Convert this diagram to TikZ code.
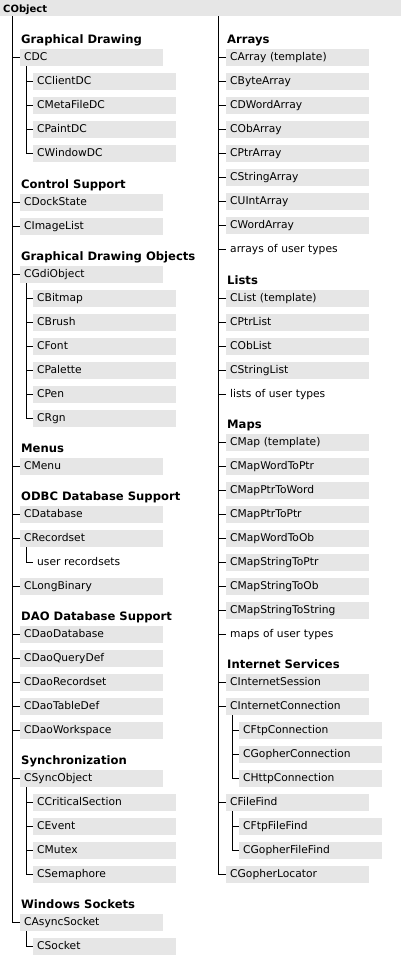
\documentclass[tikz,border=0pt]{standalone}
\usepackage{fontspec}
\setmainfont{DejaVu Sans}
\definecolor{boxgray}{RGB}{230,230,230}
\newcommand{\itemfont}{\fontsize{10.7}{12}\selectfont}
\newcommand{\headfont}{\bfseries\fontsize{11.6}{13}\selectfont}
\tikzset{
  cbox/.style={anchor=north west, fill=boxgray, minimum width=143pt, minimum height=17pt,
    inner xsep=4pt, inner ysep=0pt, text width=135pt, align=left, font=\itemfont,
    text height=8.5pt, text depth=2.1pt},
  ctext/.style={cbox, fill=none},
  chead/.style={anchor=base west, inner sep=0pt, font=\headfont},
  tree/.style={line width=1pt, black}
}
\begin{document}
\begin{tikzpicture}[x=1pt, y=-1pt]
\useasboundingbox (0,0) rectangle (401,956);
\fill[boxgray] (0,0) rectangle (401,16);
\node[anchor=base west, inner sep=0pt, font=\bfseries\fontsize{10}{12}\selectfont] (cobject) at (3,12.5) {CObject};
\coordinate (Ltop) at (12.5,16);
\coordinate (Rtop) at (218.5,16);

% ---------- left column ----------
\node[chead] (h1) at (21,43) {Graphical Drawing};
\node[cbox] (cdc) at (20,49) {CDC};
\node[cbox] (cclientdc) at (33,73) {CClientDC};
\node[cbox] (cmetafiledc) at (33,97) {CMetaFileDC};
\node[cbox] (cpaintdc) at (33,121) {CPaintDC};
\node[cbox] (cwindowdc) at (33,145) {CWindowDC};

\node[chead] (h2) at (21,188) {Control Support};
\node[cbox] (cdockstate) at (20,194) {CDockState};
\node[cbox] (cimagelist) at (20,218) {CImageList};

\node[chead] (h3) at (21,260) {Graphical Drawing Objects};
\node[cbox] (cgdiobject) at (20,266) {CGdiObject};
\node[cbox] (cbitmap) at (33,290) {CBitmap};
\node[cbox] (cbrush) at (33,314) {CBrush};
\node[cbox] (cfont) at (33,338) {CFont};
\node[cbox] (cpalette) at (33,362) {CPalette};
\node[cbox] (cpen) at (33,386) {CPen};
\node[cbox] (crgn) at (33,410) {CRgn};

\node[chead] (h4) at (21,452) {Menus};
\node[cbox] (cmenu) at (20,458) {CMenu};

\node[chead] (h5) at (21,500) {ODBC Database Support};
\node[cbox] (cdatabase) at (20,506) {CDatabase};
\node[cbox] (crecordset) at (20,530) {CRecordset};
\node[ctext] (userrec) at (33,554) {user recordsets};
\node[cbox] (clongbinary) at (20,578) {CLongBinary};

\node[chead] (h6) at (21,620) {DAO Database Support};
\node[cbox] (cdaodatabase) at (20,626) {CDaoDatabase};
\node[cbox] (cdaoquerydef) at (20,650) {CDaoQueryDef};
\node[cbox] (cdaorecordset) at (20,674) {CDaoRecordset};
\node[cbox] (cdaotabledef) at (20,698) {CDaoTableDef};
\node[cbox] (cdaoworkspace) at (20,722) {CDaoWorkspace};

\node[chead] (h7) at (21,764) {Synchronization};
\node[cbox] (csyncobject) at (20,770) {CSyncObject};
\node[cbox] (ccriticalsection) at (33,794) {CCriticalSection};
\node[cbox] (cevent) at (33,818) {CEvent};
\node[cbox] (cmutex) at (33,842) {CMutex};
\node[cbox] (csemaphore) at (33,866) {CSemaphore};

\node[chead] (h8) at (21,908) {Windows Sockets};
\node[cbox] (casyncsocket) at (20,914) {CAsyncSocket};
\node[cbox] (csocket) at (33,938) {CSocket};

% ---------- right column ----------
\node[chead] (h9) at (227,43) {Arrays};
\node[cbox] (carray) at (226,49) {CArray (template)};
\node[cbox] (cbytearray) at (226,73) {CByteArray};
\node[cbox] (cdwordarray) at (226,97) {CDWordArray};
\node[cbox] (cobarray) at (226,121) {CObArray};
\node[cbox] (cptrarray) at (226,145) {CPtrArray};
\node[cbox] (cstringarray) at (226,169) {CStringArray};
\node[cbox] (cuintarray) at (226,193) {CUIntArray};
\node[cbox] (cwordarray) at (226,217) {CWordArray};
\node[ctext] (arruser) at (226,241) {arrays of user types};

\node[chead] (h10) at (227,284) {Lists};
\node[cbox] (clist) at (226,290) {CList (template)};
\node[cbox] (cptrlist) at (226,314) {CPtrList};
\node[cbox] (coblist) at (226,338) {CObList};
\node[cbox] (cstringlist) at (226,362) {CStringList};
\node[ctext] (listuser) at (226,386) {lists of user types};

\node[chead] (h11) at (227,428) {Maps};
\node[cbox] (cmap) at (226,434) {CMap (template)};
\node[cbox] (cmapwordtoptr) at (226,458) {CMapWordToPtr};
\node[cbox] (cmapptrtoword) at (226,482) {CMapPtrToWord};
\node[cbox] (cmapptrtoptr) at (226,506) {CMapPtrToPtr};
\node[cbox] (cmapwordtoob) at (226,530) {CMapWordToOb};
\node[cbox] (cmapstringtoptr) at (226,554) {CMapStringToPtr};
\node[cbox] (cmapstringtoob) at (226,578) {CMapStringToOb};
\node[cbox] (cmapstringtostring) at (226,602) {CMapStringToString};
\node[ctext] (mapuser) at (226,626) {maps of user types};

\node[chead] (h12) at (227,668) {Internet Services};
\node[cbox] (cinternetsession) at (226,674) {CInternetSession};
\node[cbox] (cinternetconnection) at (226,698) {CInternetConnection};
\node[cbox] (cftpconnection) at (239,722) {CFtpConnection};
\node[cbox] (cgopherconnection) at (239,746) {CGopherConnection};
\node[cbox] (chttpconnection) at (239,770) {CHttpConnection};
\node[cbox] (cfilefind) at (226,794) {CFileFind};
\node[cbox] (cftpfilefind) at (239,818) {CFtpFileFind};
\node[cbox] (cgopherfilefind) at (239,842) {CGopherFileFind};
\node[cbox] (cgopherlocator) at (226,866) {CGopherLocator};

% ---------- tree lines ----------
\draw[tree] (Ltop) |- (casyncsocket.west);
\foreach \n in {cdc,cdockstate,cimagelist,cgdiobject,cmenu,cdatabase,crecordset,clongbinary,
  cdaodatabase,cdaoquerydef,cdaorecordset,cdaotabledef,cdaoworkspace,csyncobject}
  \draw[tree] (Ltop |- \n.west) -- (\n.west);

\draw[tree] (Rtop) |- (cgopherlocator.west);
\foreach \n in {carray,cbytearray,cdwordarray,cobarray,cptrarray,cstringarray,cuintarray,cwordarray,arruser,
  clist,cptrlist,coblist,cstringlist,listuser,
  cmap,cmapwordtoptr,cmapptrtoword,cmapptrtoptr,cmapwordtoob,cmapstringtoptr,cmapstringtoob,cmapstringtostring,mapuser,
  cinternetsession,cinternetconnection,cfilefind}
  \draw[tree] (Rtop |- \n.west) -- (\n.west);

% sub-trees
\coordinate (sdc) at ([xshift=6.5pt]cdc.south west);
\draw[tree] (sdc) |- (cwindowdc.west);
\foreach \n in {cclientdc,cmetafiledc,cpaintdc} \draw[tree] (sdc |- \n.west) -- (\n.west);

\coordinate (sgdi) at ([xshift=6.5pt]cgdiobject.south west);
\draw[tree] (sgdi) |- (crgn.west);
\foreach \n in {cbitmap,cbrush,cfont,cpalette,cpen} \draw[tree] (sgdi |- \n.west) -- (\n.west);

\coordinate (srec) at ([xshift=6.5pt]crecordset.south west);
\draw[tree] (srec) |- (userrec.west);

\coordinate (ssync) at ([xshift=6.5pt]csyncobject.south west);
\draw[tree] (ssync) |- (csemaphore.west);
\foreach \n in {ccriticalsection,cevent,cmutex} \draw[tree] (ssync |- \n.west) -- (\n.west);

\coordinate (sasync) at ([xshift=6.5pt]casyncsocket.south west);
\draw[tree] (sasync) |- (csocket.west);

\coordinate (sinet) at ([xshift=6.5pt]cinternetconnection.south west);
\draw[tree] (sinet) |- (chttpconnection.west);
\foreach \n in {cftpconnection,cgopherconnection} \draw[tree] (sinet |- \n.west) -- (\n.west);

\coordinate (sfind) at ([xshift=6.5pt]cfilefind.south west);
\draw[tree] (sfind) |- (cgopherfilefind.west);
\draw[tree] (sfind |- cftpfilefind.west) -- (cftpfilefind.west);
\end{tikzpicture}
\end{document}
